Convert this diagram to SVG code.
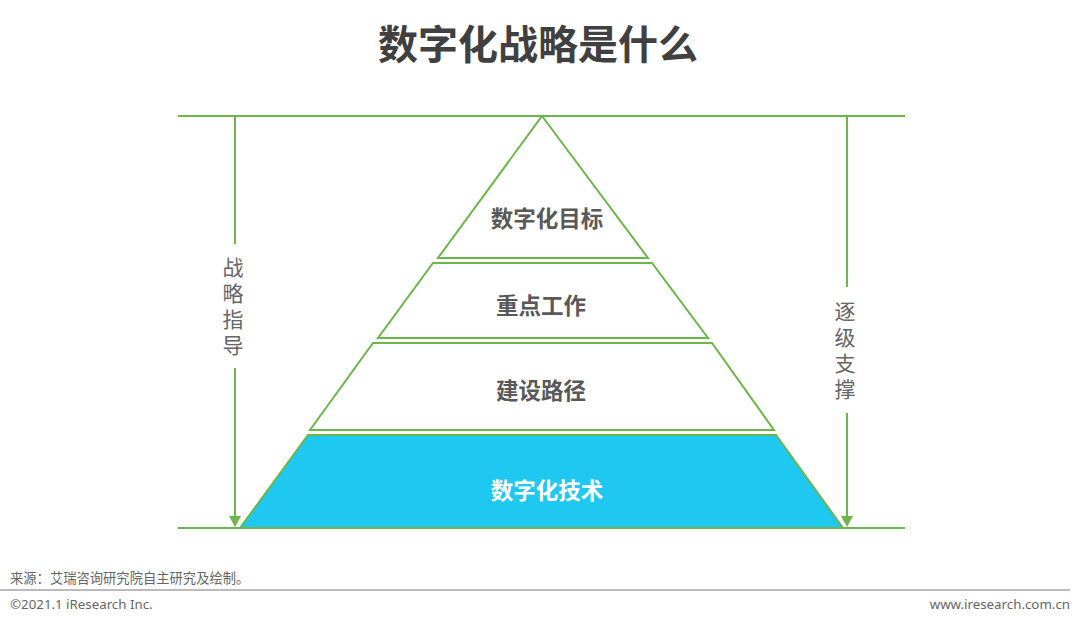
<svg xmlns="http://www.w3.org/2000/svg" width="1080" height="620" viewBox="0 0 1080 620">
<defs>
<style>
.g{stroke:#6cb64a;stroke-width:2;fill:none}
.tier{stroke:#6cb64a;stroke-width:2;fill:#fff;stroke-linejoin:miter}
.lbl{font-family:"Noto Sans CJK SC","Noto Sans",sans-serif;font-weight:bold;font-size:22.5px;fill:#595959;text-anchor:middle}
.side{font-family:"Noto Sans CJK SC","Noto Sans",sans-serif;font-size:21px;fill:#666;writing-mode:vertical-rl;letter-spacing:5px}
.foot{font-family:"Noto Sans","Noto Sans CJK SC",sans-serif;font-size:13.3px;fill:#666}
</style>
</defs>
<rect width="1080" height="620" fill="#fff"/>
<text x="538" y="59" font-family="Noto Sans CJK SC,sans-serif" font-weight="bold" font-size="40" fill="#404040" text-anchor="middle">数字化战略是什么</text>
<g id="connectors">
<line class="g" x1="178" y1="116" x2="905" y2="116"/>
<line class="g" x1="178" y1="528" x2="905" y2="528"/>
<line class="g" x1="235" y1="116" x2="235" y2="244"/>
<line class="g" x1="235" y1="368" x2="235" y2="517"/>
<path d="M229,516 L241,516 L235,527 Z" fill="#6cb64a"/>
<line class="g" x1="847" y1="116" x2="847" y2="287"/>
<line class="g" x1="847" y1="413" x2="847" y2="517"/>
<path d="M841,516 L853,516 L847,527 Z" fill="#6cb64a"/>
</g>
<g id="side-left">
<text class="side" x="233" y="257">战略指导</text>
</g>
<g id="side-right">
<text class="side" x="845" y="301">逐级支撑</text>
</g>
<g id="tier1">
<polygon class="tier" points="542,116 648,258 438,258"/>
<text class="lbl" x="547" y="227">数字化目标</text>
</g>
<g id="tier2">
<polygon class="tier" points="433,263 652,263 708,338 378,338"/>
<text class="lbl" x="541" y="314">重点工作</text>
</g>
<g id="tier3">
<polygon class="tier" points="373,343 712,343 774,430 310,430"/>
<text class="lbl" x="541" y="399">建设路径</text>
</g>
<g id="tier4">
<polygon class="tier" style="fill:#1fc8f0" points="308,435 776,435 843,528 240,528"/>
<text class="lbl" x="547" y="499" style="fill:#fff">数字化技术</text>
</g>
<g id="footer">
<text class="foot" x="10" y="583">来源：艾瑞咨询研究院自主研究及绘制。</text>
<line x1="0" y1="590" x2="1070" y2="590" stroke="#777" stroke-width="1"/>
<text class="foot" x="10" y="609">©2021.1 iResearch Inc.</text>
<text class="foot" x="1070" y="609" text-anchor="end">www.iresearch.com.cn</text>
</g>
</svg>
